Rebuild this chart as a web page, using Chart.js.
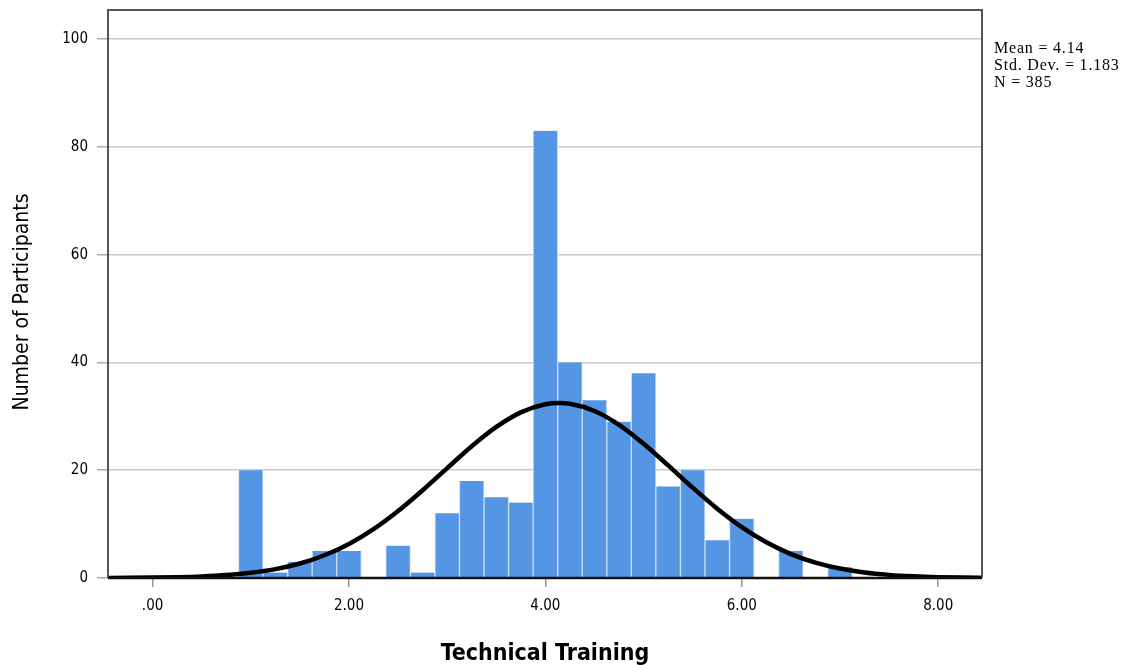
<!DOCTYPE html>
<html>
<head>
<meta charset="utf-8">
<script src="https://cdn.jsdelivr.net/npm/chart.js@4/dist/chart.umd.min.js"></script>
<style>
  html, body { margin: 0; padding: 0; background: #ffffff; }
  #wrap { width: 1127px; height: 665px; position: relative; }
</style>
</head>
<body>
<div id="wrap"><canvas id="c" width="1127" height="665"></canvas></div>
<script>
// Histogram bins (bin centres, width 0.25) and counts
const binCenters = [1.00, 1.25, 1.50, 1.75, 2.00, 2.25, 2.50, 2.75, 3.00, 3.25, 3.50, 3.75, 4.00, 4.25, 4.50, 4.75, 5.00, 5.25, 5.50, 5.75, 6.00, 6.25, 6.50, 6.75, 7.00];
const binCounts  = [20, 1, 3, 5, 5, 0, 6, 1, 12, 18, 15, 14, 83, 40, 33, 29, 38, 17, 20, 7, 11, 0, 5, 0, 2];

// Normal curve
const curveX = [-0.50, -0.25, 0.00, 0.25, 0.50, 0.75, 1.00, 1.25, 1.50, 1.75, 2.00, 2.25, 2.50, 2.75, 3.00, 3.25, 3.50, 3.75, 4.00, 4.14, 4.25, 4.50, 4.75, 5.00, 5.25, 5.50, 5.75, 6.00, 6.25, 6.50, 6.75, 7.00, 7.25, 7.50, 7.75, 8.00, 8.25, 8.50];
const curveY = [0.015, 0.033, 0.071, 0.146, 0.286, 0.535, 0.958, 1.64, 2.69, 4.22, 6.32, 9.06, 12.42, 16.28, 20.40, 24.46, 28.04, 30.74, 32.23, 32.46, 32.32, 30.99, 28.42, 24.92, 20.90, 16.76, 12.86, 9.43, 6.62, 4.44, 2.85, 1.75, 1.03, 0.58, 0.31, 0.16, 0.08, 0.04];

// Axis ticks and labels
const xTickValues = [0, 2, 4, 6, 8];
const xTickLabels = ['.00', '2.00', '4.00', '6.00', '8.00'];
const yTickValues = [0, 20, 40, 60, 80, 100];
const yTickLabels = ['0', '20', '40', '60', '80', '100'];

const xTitle = 'Technical Training';
const yTitle = 'Number of Participants';
const statsLines = ['Mean = 4.14', 'Std. Dev. = 1.183', 'N = 385'];

const barData = binCenters.map((x, i) => ({ x: x, y: binCounts[i] }));
const lineData = curveX.map((x, i) => ({ x: x, y: curveY[i] }));

const condensed = "'DejaVu Sans Condensed', 'Liberation Sans Narrow', 'DejaVu Sans', sans-serif";

const framePlugin = {
  id: 'frame',
  afterDraw(chart) {
    const ctx = chart.ctx;
    const a = chart.chartArea;
    ctx.save();
    ctx.strokeStyle = '#555555';
    ctx.lineWidth = 2;
    ctx.beginPath();
    ctx.moveTo(a.left, a.bottom);
    ctx.lineTo(a.left, a.top);
    ctx.lineTo(a.right, a.top);
    ctx.lineTo(a.right, a.bottom);
    ctx.stroke();
    ctx.strokeStyle = '#111111';
    ctx.lineWidth = 2.5;
    ctx.beginPath();
    ctx.moveTo(a.left, a.bottom);
    ctx.lineTo(a.right, a.bottom);
    ctx.stroke();
    ctx.fillStyle = '#000000';
    ctx.textAlign = 'center';
    ctx.textBaseline = 'middle';
    ctx.font = "bold 23px " + condensed;
    ctx.fillText(xTitle, (a.left + a.right) / 2, 654);
    ctx.font = "21px " + condensed;
    ctx.save();
    ctx.translate(23, 302);
    ctx.rotate(-Math.PI / 2);
    ctx.fillText(yTitle, 0, 0);
    ctx.restore();
    ctx.font = "16px 'Liberation Serif', 'DejaVu Serif', serif";
    ctx.letterSpacing = '0.8px';
    ctx.textAlign = 'left';
    ctx.textBaseline = 'middle';
    statsLines.forEach((s, i) => ctx.fillText(s, 994, 49 + i * 17));
    ctx.restore();
  }
};

new Chart(document.getElementById('c'), {
  data: {
    datasets: [
      {
        type: 'line',
        data: lineData,
        borderColor: '#000000',
        borderWidth: 4.5,
        pointRadius: 0,
        tension: 0.4,
        cubicInterpolationMode: 'monotone',
        fill: false,
        order: 0
      },
      {
        type: 'bar',
        data: barData,
        backgroundColor: '#5596e4',
        borderColor: '#c9dcf5',
        borderWidth: { left: 1, right: 1, top: 0, bottom: 0 },
        barPercentage: 1.0,
        categoryPercentage: 1.0,
        order: 1
      }
    ]
  },
  options: {
    responsive: false,
    animation: false,
    devicePixelRatio: 1,
    layout: { padding: { left: 0, right: 145, top: 10, bottom: 0 } },
    plugins: { legend: { display: false }, tooltip: { enabled: false } },
    scales: {
      x: {
        type: 'linear',
        offset: false,
        min: -0.454,
        max: 8.446,
        afterBuildTicks(scale) { scale.ticks = xTickValues.map(v => ({ value: v })); },
        afterFit(scale) { scale.height = 87; scale.paddingLeft = 0; scale.paddingRight = 0; },
        ticks: {
          autoSkip: false,
          maxRotation: 0,
          color: '#000000',
          font: { size: 15, family: condensed },
          padding: 10,
          callback(v) { const i = xTickValues.indexOf(v); return i >= 0 ? xTickLabels[i] : ''; }
        },
        grid: { offset: false, drawOnChartArea: false, drawTicks: true, tickLength: 9, color: '#999999', lineWidth: 1.5 },
        border: { display: false }
      },
      y: {
        type: 'linear',
        min: 0,
        max: 105.4,
        afterBuildTicks(scale) { scale.ticks = yTickValues.map(v => ({ value: v })); },
        afterFit(scale) { scale.width = 108; scale.paddingTop = 0; scale.paddingBottom = 0; },
        ticks: {
          color: '#000000',
          font: { size: 15, family: condensed },
          padding: 9,
          callback(v) { const i = yTickValues.indexOf(v); return i >= 0 ? yTickLabels[i] : ''; }
        },
        grid: { color: '#c8c8c8', lineWidth: 1.5, tickLength: 11, tickColor: '#aaaaaa' },
        border: { display: false }
      }
    }
  },
  plugins: [framePlugin]
});
</script>
</body>
</html>
